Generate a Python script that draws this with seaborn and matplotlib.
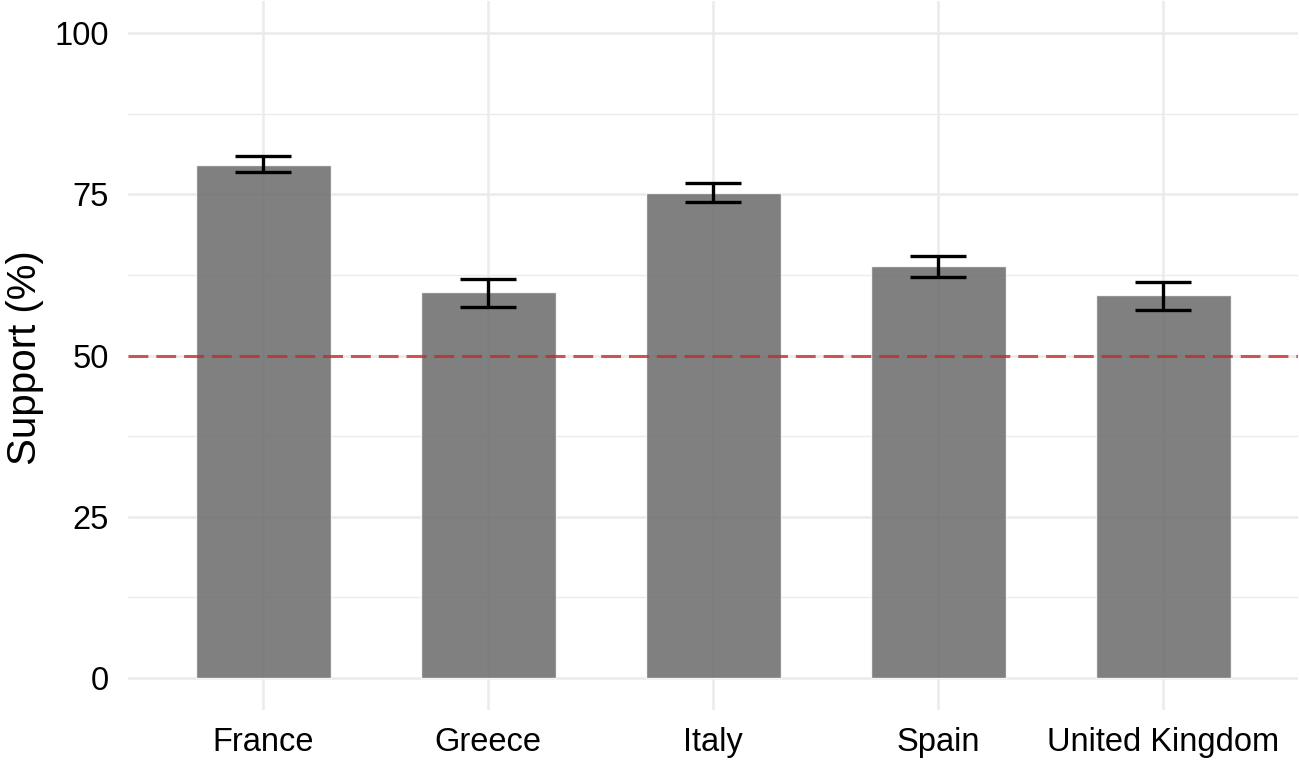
import numpy as np
import pandas as pd
import matplotlib
matplotlib.use("Agg")
import matplotlib.pyplot as plt
import seaborn as sns

# data
countries = ["France", "Greece", "Italy", "Spain", "United Kingdom"]
support = [79.6, 59.8, 75.2, 63.9, 59.4]
ci_low = [78.4, 57.6, 73.8, 62.2, 57.1]
ci_high = [81.0, 61.9, 76.7, 65.4, 61.4]
threshold = 50
y_ticks = [0, 25, 50, 75, 100]

sns.set_theme(style="white")
plt.rcParams['font.family'] = ['Liberation Sans', 'DejaVu Sans']

df = pd.DataFrame({"country": countries, "support": support,
                   "low": ci_low, "high": ci_high})

fig = plt.figure(figsize=(12.99, 7.6), dpi=100)
ax = fig.add_axes([128 / 1299, 50 / 760, 1170 / 1299, 709 / 760])

sns.barplot(data=df, x="country", y="support", color="#6a6a6a", alpha=0.85,
            width=0.6, errorbar=None, saturation=1, ax=ax, zorder=2)

pos = np.arange(len(countries))
err = [df["support"] - df["low"], df["high"] - df["support"]]
ax.errorbar(pos, df["support"], yerr=err, fmt="none", ecolor="black",
            elinewidth=2.4, capsize=20, capthick=2.4, zorder=3)

ax.axhline(threshold, color="#C42A2A", alpha=0.78, lw=2.2,
           dashes=(6.5, 2.6), zorder=4)

ax.set_xlim(-0.6, len(countries) - 0.4)
ax.set_ylim(-5, 105)
ax.set_yticks(y_ticks)
ax.set_yticks([12.5, 37.5, 62.5, 87.5], minor=True)
ax.grid(which="major", axis="both", color="#EBEBEB", lw=1.8, zorder=0)
ax.grid(which="minor", axis="y", color="#EBEBEB", lw=1.0, zorder=0)
ax.set_axisbelow(True)
for s in ax.spines.values():
    s.set_visible(False)

ax.tick_params(axis="both", which="both", length=0, labelsize=23.5,
               labelcolor="black")
ax.tick_params(axis="y", pad=14)
ax.tick_params(axis="x", pad=12)
ax.set_xlabel("")
ax.set_ylabel("Support (%)", fontsize=29, color="black")
ax.yaxis.set_label_coords(-(128 - 44) / 1170, 0.497)

fig.savefig("out.png", dpi=100)
